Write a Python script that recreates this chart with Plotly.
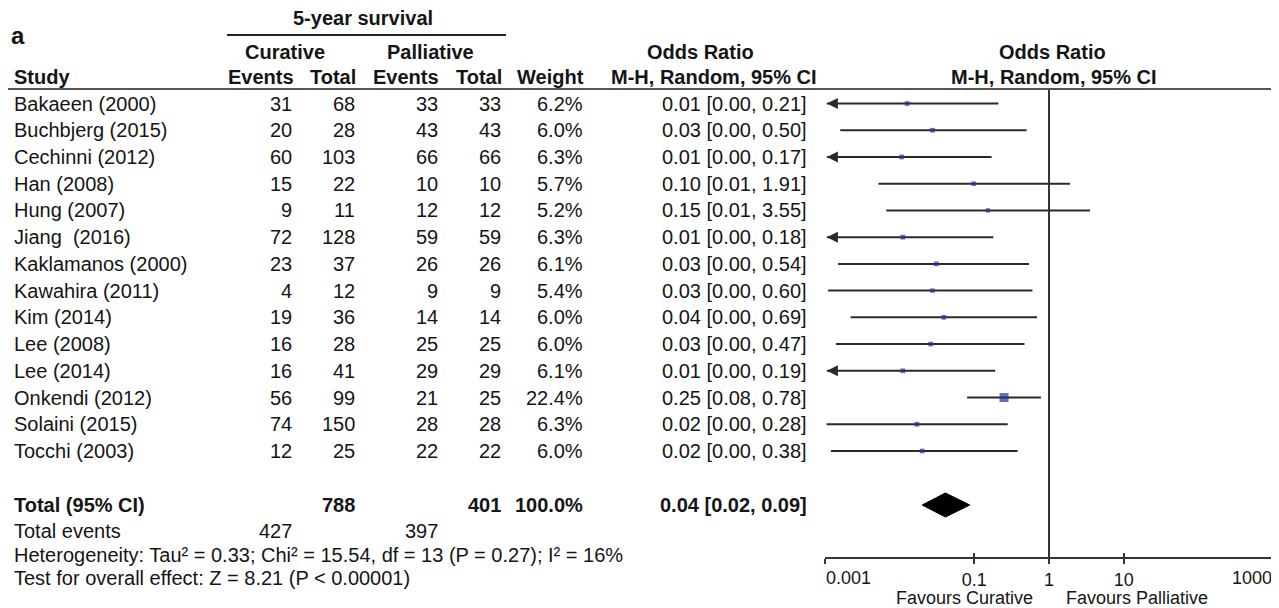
import plotly.graph_objects as go
import math

# ---------------- data ----------------
studies = ["Bakaeen (2000)", "Buchbjerg (2015)", "Cechinni (2012)", "Han (2008)", "Hung (2007)",
           "Jiang  (2016)", "Kaklamanos (2000)", "Kawahira (2011)", "Kim (2014)", "Lee (2008)",
           "Lee (2014)", "Onkendi (2012)", "Solaini (2015)", "Tocchi (2003)"]
cur_events = [31, 20, 60, 15, 9, 72, 23, 4, 19, 16, 16, 56, 74, 12]
cur_total = [68, 28, 103, 22, 11, 128, 37, 12, 36, 28, 41, 99, 150, 25]
pal_events = [33, 43, 66, 10, 12, 59, 26, 9, 14, 25, 29, 21, 28, 22]
pal_total = [33, 43, 66, 10, 12, 59, 26, 9, 14, 25, 29, 25, 28, 22]
weights = [6.2, 6.0, 6.3, 5.7, 5.2, 6.3, 6.1, 5.4, 6.0, 6.0, 6.1, 22.4, 6.3, 6.0]
or_est = [0.0126, 0.0275, 0.0106, 0.098, 0.152, 0.011, 0.031, 0.0275, 0.039, 0.026, 0.011, 0.25, 0.017, 0.020]
ci_lo = [0.0004, 0.0016, 0.0003, 0.0052, 0.0066, 0.0004, 0.0015, 0.0011, 0.0022, 0.0014, 0.0004, 0.08, 0.00105, 0.0012]
ci_hi = [0.21, 0.50, 0.17, 1.91, 3.55, 0.18, 0.54, 0.60, 0.69, 0.47, 0.19, 0.78, 0.28, 0.38]

total_cur = 788
total_pal = 401
total_weight = "100.0%"
total_or = 0.041
total_lo = 0.02
total_hi = 0.087
events_cur = 427
events_pal = 397
heterogeneity = "Heterogeneity: Tau² = 0.33; Chi² = 15.54, df = 13 (P = 0.27); I² = 16%"
overall = "Test for overall effect: Z = 8.21 (P < 0.00001)"

tick_vals = [0.001, 0.1, 1, 10, 1000]
tick_text = ["0.001", "0.1", "1", "10", "1000"]
axis_min = 0.001
axis_max = 1000

# ---------------- layout helpers ----------------
OFF = 8                      # page body margin of the html page
W, H = 1279 - OFF, 608 - OFF
ROW0, ROWH = 103.5, 26.73    # screen pixel y of first study row, row pitch


def row_of(sy):
    return (sy - ROW0) / ROWH


def px(sx):
    return (sx - OFF) / W


def py(sy):
    return 1 - (sy - OFF) / H


FONT = "Liberation Sans, Arial, sans-serif"
FS = 20
FS_AX = 18
TXT = "#151515"
LINE = "#2a2a2a"
SQ = "#27309a"

n = len(studies)
rows = list(range(n))
r_total = row_of(505)
r_events = row_of(531)
r_het = row_of(555)
r_test = row_of(578)

fig = go.Figure()

# CI lines (clipped at the axis minimum; arrows where clipped)
clip = 10 ** -2.975
lx, ly = [], []
ax_x, ax_y = [], []
for i in rows:
    lo = ci_lo[i]
    if lo < axis_min:
        lo = clip
        ax_x.append(clip)
        ax_y.append(i)
    lx += [lo, ci_hi[i], None]
    ly += [i, i, None]
fig.add_trace(go.Scatter(x=lx, y=ly, mode="lines", line=dict(color=LINE, width=2),
                         hoverinfo="skip", showlegend=False, cliponaxis=False))
fig.add_trace(go.Scatter(x=ax_x, y=ax_y, mode="markers",
                         marker=dict(symbol="arrow-left", size=11, color=LINE,
                                     line=dict(width=0)),
                         hoverinfo="skip", showlegend=False, cliponaxis=False))

# point estimates
fig.add_trace(go.Scatter(x=or_est, y=rows, mode="markers",
                         marker=dict(symbol="square", color=SQ,
                                     size=[1.9 * math.sqrt(w) for w in weights],
                                     line=dict(width=0)),
                         showlegend=False))

# pooled diamond
dh = 0.45
fig.add_trace(go.Scatter(x=[total_lo, total_or, total_hi, total_or, total_lo],
                         y=[r_total, r_total - dh, r_total, r_total + dh, r_total],
                         mode="lines", fill="toself", fillcolor="#000000",
                         line=dict(color="#000000", width=1),
                         hoverinfo="skip", showlegend=False))

# line of no effect
fig.add_trace(go.Scatter(x=[1, 1], y=[row_of(89), row_of(558)], mode="lines",
                         line=dict(color="#333333", width=2),
                         hoverinfo="skip", showlegend=False))

# invisible trace on overlay axis (carries the inward ticks)
fig.add_trace(go.Scatter(x=[1], y=[r_total], xaxis="x2", mode="markers",
                         marker=dict(opacity=0), hoverinfo="skip", showlegend=False))

ann = []


def text(sx, r, s, anchor="left", bold=False, size=FS):
    if bold:
        s = "<b>" + s + "</b>"
    ann.append(dict(x=px(sx), y=r, xref="paper", yref="y", text=s, showarrow=False,
                    xanchor=anchor, yanchor="middle", borderpad=0,
                    font=dict(family=FONT, size=size, color=TXT)))


# headers
text(10, row_of(35), "a", bold=True, size=24)
text(363, row_of(18), "5-year survival", anchor="center", bold=True)
text(285, row_of(52), "Curative", anchor="center", bold=True)
text(430, row_of(52), "Palliative", anchor="center", bold=True)
hr = row_of(77)
text(13, hr, "Study", bold=True)
text(295, hr, "Events", anchor="right", bold=True)
text(357, hr, "Total", anchor="right", bold=True)
text(440, hr, "Events", anchor="right", bold=True)
text(503, hr, "Total", anchor="right", bold=True)
text(585, hr, "Weight", anchor="right", bold=True)
text(700, row_of(52), "Odds Ratio", anchor="center", bold=True)
text(714, hr, "M-H, Random, 95% CI", anchor="center", bold=True)
text(1052, row_of(52), "Odds Ratio", anchor="center", bold=True)
text(1054, hr, "M-H, Random, 95% CI", anchor="center", bold=True)

# study rows
for i in rows:
    text(13, i, studies[i])
    text(293, i, str(cur_events[i]), anchor="right")
    text(356, i, str(cur_total[i]), anchor="right")
    text(439, i, str(pal_events[i]), anchor="right")
    text(502, i, str(pal_total[i]), anchor="right")
    text(584, i, f"{weights[i]:.1f}%", anchor="right")
    text(808, i, f"{or_est[i]:.2f} [{ci_lo[i]:.2f}, {ci_hi[i]:.2f}]", anchor="right")

# total rows
text(13, r_total, "Total (95% CI)", bold=True)
text(356, r_total, str(total_cur), anchor="right", bold=True)
text(502, r_total, str(total_pal), anchor="right", bold=True)
text(584, r_total, total_weight, anchor="right", bold=True)
text(808, r_total, f"{total_or:.2f} [{total_lo:.2f}, {total_hi:.2f}]", anchor="right", bold=True)
text(13, r_events, "Total events")
text(293, r_events, str(events_cur), anchor="right")
text(439, r_events, str(events_pal), anchor="right")
text(13, r_het, heterogeneity)
text(13, r_test, overall)

x_left, x_right = 825, 1273
xdom = [px(x_left), px(x_right)]

# end tick labels sit inside the axis ends
ann.append(dict(x=xdom[0], y=py(578), xref="paper", yref="paper", text=tick_text[0],
                showarrow=False, xanchor="left", yanchor="middle", borderpad=0,
                font=dict(family=FONT, size=FS_AX, color=TXT)))
ann.append(dict(x=xdom[1], y=py(578), xref="paper", yref="paper", text=tick_text[-1],
                showarrow=False, xanchor="right", yanchor="middle", borderpad=0,
                font=dict(family=FONT, size=FS_AX, color=TXT)))

# favours labels
ann.append(dict(x=px(964), y=py(598), xref="paper", yref="paper", text="Favours Curative",
                showarrow=False, xanchor="center", yanchor="middle", borderpad=0,
                font=dict(family=FONT, size=FS_AX, color=TXT)))
ann.append(dict(x=px(1137), y=py(598), xref="paper", yref="paper", text="Favours Palliative",
                showarrow=False, xanchor="center", yanchor="middle", borderpad=0,
                font=dict(family=FONT, size=FS_AX, color=TXT)))

shapes = [
    dict(type="line", xref="paper", yref="y", x0=0, x1=1, y0=row_of(89), y1=row_of(89),
         line=dict(color="#555555", width=2)),
    dict(type="line", xref="paper", yref="y", x0=px(227), x1=px(506), y0=row_of(35), y1=row_of(35),
         line=dict(color="#222222", width=2)),
]

xr = [math.log10(axis_min), math.log10(axis_max)]
axpos = py(558)
mid_text = [""] + tick_text[1:-1] + [""]

fig.update_layout(
    width=W, height=H,
    margin=dict(l=0, r=0, t=0, b=0, autoexpand=False),
    paper_bgcolor="white", plot_bgcolor="rgba(0,0,0,0)",
    xaxis=dict(type="log", range=xr, domain=xdom, anchor="free", position=axpos,
               automargin=False,
               showgrid=False, zeroline=False, showline=True, linecolor="#333333", linewidth=2,
               ticks="outside", ticklen=5, tickwidth=2, tickcolor="#333333",
               tickvals=tick_vals, ticktext=mid_text,
               tickfont=dict(family=FONT, size=FS_AX, color=TXT)),
    xaxis2=dict(type="log", range=xr, domain=xdom, overlaying="x", anchor="free", position=axpos,
                automargin=False,
                showgrid=False, zeroline=False, showline=False,
                ticks="inside", ticklen=5, tickwidth=2, tickcolor="#333333",
                tickvals=tick_vals, showticklabels=False),
    yaxis=dict(range=[row_of(H + OFF), row_of(OFF)], domain=[0, 1], visible=False,
               automargin=False, showgrid=False, zeroline=False),
    annotations=ann,
    shapes=shapes,
)

fig.write_html("out.html")
